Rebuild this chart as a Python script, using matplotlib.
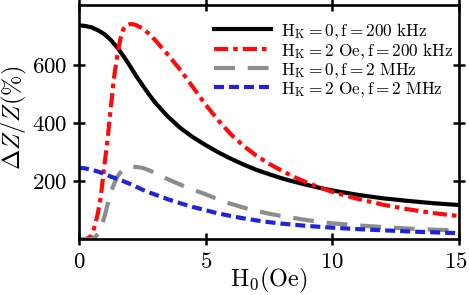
import matplotlib
matplotlib.use('Agg')
import matplotlib.pyplot as plt
from matplotlib.ticker import FuncFormatter
from matplotlib.transforms import ScaledTranslation

plt.rcParams['mathtext.fontset'] = 'cm'
plt.rcParams['font.family'] = 'serif'
plt.rcParams['font.serif'] = ['DejaVu Serif']

# values, H0 in Oe, dZ/Z in %
# HK = 0, f = 200 kHz
h_a = [0, 0.25, 0.5, 0.75, 1.0, 1.25, 1.5, 1.75, 2.0, 2.25, 2.5, 2.75, 3.0,
       3.5, 4.0, 4.5, 5.0, 5.5, 6.0, 6.5, 7.0, 7.5, 8.0, 8.5, 9.0, 9.5,
       10, 11, 12, 13, 14, 15]
z_a = [735, 733, 728, 718, 705, 685, 660, 630, 597, 562, 530, 499, 470,
       422, 382, 350, 323, 298, 276, 256, 238, 223, 209, 197, 186, 176,
       167, 152, 140, 131, 123, 117]

# HK = 2 Oe, f = 200 kHz
h_b = [0, 0.3, 0.5, 0.625, 0.75, 0.875, 1.0, 1.125, 1.25, 1.375, 1.5, 1.625,
       1.75, 1.875, 2.0, 2.125, 2.25, 2.5, 2.75, 3.0, 3.5, 4.0, 4.5, 5.0,
       5.5, 6.0, 6.5, 7.0, 7.5, 8.0, 8.5, 9.0, 9.5, 10, 11, 12, 13, 14, 15]
z_b = [0, 0, 12, 45, 90, 155, 250, 340, 445, 550, 625, 685,
       722, 735, 739, 739, 736, 725, 707, 685, 635, 582, 522, 462,
       408, 360, 320, 287, 259, 235, 213, 194, 177, 162, 138, 118, 102, 89, 79]

# HK = 0, f = 2 MHz
h_c = [0, 0.5, 0.625, 0.75, 0.875, 1.0, 1.125, 1.25, 1.375, 1.5, 1.625, 1.75,
       1.875, 2.0, 2.25, 2.5, 2.75, 3.0, 3.5, 4.0, 4.5, 5.0, 5.5, 6.0, 6.5,
       7.0, 7.5, 8.0, 8.5, 9.0, 9.5, 10, 11, 12, 13, 14, 15]
z_c = [0, 0, 5, 18, 40, 75, 118, 158, 187, 212, 228, 238,
       244, 247, 248, 245, 237, 227, 206, 187, 170, 154, 136, 121, 108,
       97, 87, 79, 72, 65, 59, 54, 47, 41, 36, 32, 29]

# HK = 2 Oe, f = 2 MHz
h_d = [0, 0.25, 0.5, 0.75, 1.0, 1.25, 1.5, 1.75, 2.0, 2.25, 2.5, 2.75, 3.0,
       3.5, 4.0, 4.5, 5.0, 5.5, 6.0, 6.5, 7.0, 7.5, 8.0, 8.5, 9.0, 9.5,
       10, 11, 12, 13, 14, 15]
z_d = [245, 243, 238, 232, 224, 215, 207, 199, 190, 180, 170, 161, 153,
       137, 123, 110, 99, 88, 79, 71, 64, 58, 53, 49, 45, 42,
       39, 34, 30, 26, 23, 20]

labels = [r'$\mathrm{H_K = 0, f = 200\ kHz}$',
          r'$\mathrm{H_K = 2\ Oe, f = 200\ kHz}$',
          r'$\mathrm{H_K = 0, f = 2\ MHz}$',
          r'$\mathrm{H_K = 2\ Oe, f = 2\ MHz}$']

fig = plt.figure(figsize=(4.69, 2.95), dpi=100)
ax = fig.add_axes([0.1684, 0.1898, 0.8103, 0.7932])

lw = 3.0
ax.plot(h_a, z_a, color='black', lw=lw, label=labels[0])
ax.plot(h_b, z_b, color='#ff0a0a', lw=lw, dashes=(3.4, 1.2, 1.1, 1.2),
        label=labels[1])
ax.plot(h_c, z_c, color='#8c8c8c', lw=lw, dashes=(5.0, 3.1), label=labels[2])
ax.plot(h_d, z_d, color='#2222dd', lw=lw, dashes=(2.4, 1.2), label=labels[3])

ax.set_xlim(0, 15)
ax.set_ylim(0, 805)
ax.set_xticks([0, 5, 10, 15])
ax.set_yticks([200, 400, 600])
fmt = FuncFormatter(lambda v, p: r'$%d$' % v)
ax.xaxis.set_major_formatter(fmt)
ax.yaxis.set_major_formatter(fmt)
ax.tick_params(direction='inout', length=9, width=1.8, top=True, right=True,
               labelsize=16.5, pad=4)
for s in ax.spines.values():
    s.set_linewidth(1.9)

# keep the last x label ("15") inside the figure edge
last = ax.xaxis.get_major_ticks()[-1].label1
last.set_transform(last.get_transform() +
                   ScaledTranslation(-2.5 / 72, 0, fig.dpi_scale_trans))

ax.set_xlabel(r'$\mathrm{H_0(Oe)}$', fontsize=17.5, labelpad=-5)
ax.set_ylabel(r'$\Delta Z/Z(\%)$', fontsize=17.5)
ax.yaxis.set_label_coords(-0.131, 0.519)

ax.legend(loc='upper right', bbox_to_anchor=(1.0, 0.959), frameon=False,
          fontsize=12.4, handlelength=3.3, handletextpad=0.58,
          labelspacing=0.0, borderaxespad=0.15, borderpad=0.2)

fig.savefig('out.png', dpi=100)
